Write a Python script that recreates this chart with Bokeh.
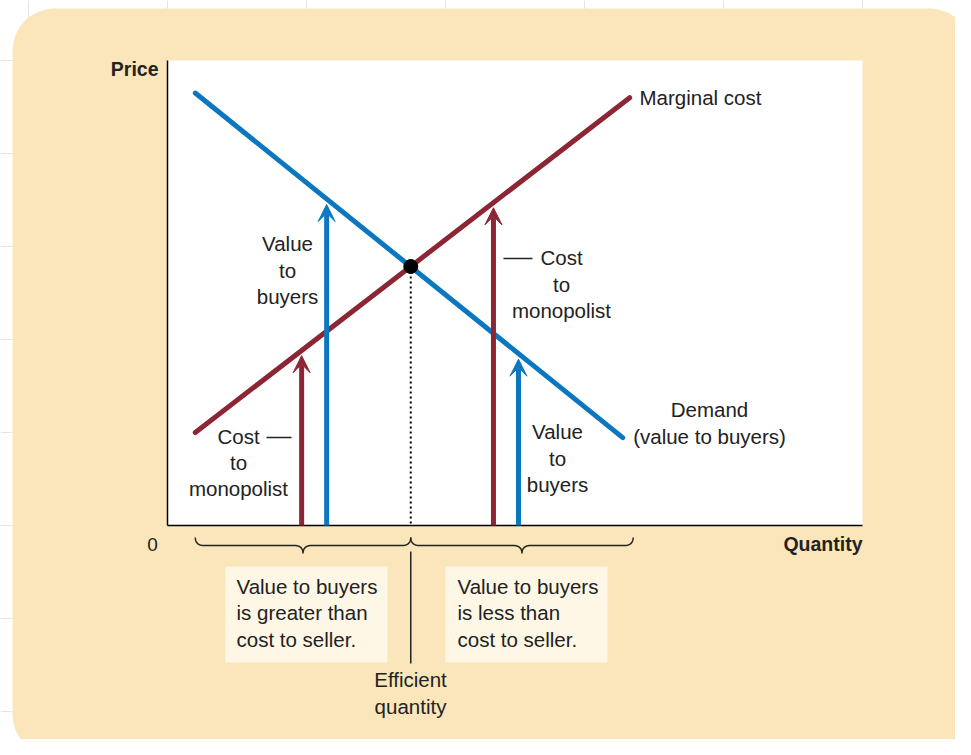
import numpy as np
from bokeh.plotting import figure
from bokeh.models import Range1d, BoxAnnotation, Arrow, VeeHead
from bokeh.core.properties import value
from bokeh.embed import file_html
from bokeh.resources import INLINE

# ---------------- data (quantity, price units) ----------------
demand_q = [0.4, 6.55]
demand_p = [9.3, 1.89]
mc_q = [0.4, 6.65]
mc_p = [2.0, 9.2]
efficient_q = 3.5
efficient_p = 5.57
q_axis_max = 10.0
p_axis_max = 10.0
brace_right_q = 6.7
# quantities used for the arrow examples: (cost arrow, value arrow)
below_eff_q = [1.93, 2.29]
above_eff_q = [4.69, 5.05]

box_left_lines = ["Value to buyers", "is greater than", "cost to seller."]
box_right_lines = ["Value to buyers", "is less than", "cost to seller."]

# ---------------- styling ----------------
W, H = 955, 739
BLUE = "#0A77C0"
RED = "#8C2634"
CARD = "#FAE6BA"
BOX = "#FEF7E5"
INK = "#222222"
FONT = value("Liberation Sans")

# pixel layout of the axes (origin and unit sizes)
X0, SX = 167.0, 69.5
Y0, SY = 525.0, 46.5
OFF = 0.0
TEXT_DY = -8.0


def qx(px):
    return (px - X0) / SX


def py(pp):
    return (Y0 - pp) / SY


p = figure(width=W, height=H, output_backend="svg", toolbar_location=None,
           x_range=Range1d(qx(OFF), qx(OFF + W)),
           y_range=Range1d(py(OFF + H), py(OFF)),
           x_axis_location=None, y_axis_location=None, min_border=0)
p.outline_line_color = None
p.background_fill_color = "white"
p.border_fill_color = "white"

# card background
card = BoxAnnotation(left=qx(12), right=qx(971), top=py(8), bottom=py(756),
                     fill_color=CARD, fill_alpha=1.0, line_color=None,
                     border_radius=42, level="underlay")
p.add_layout(card)

# white plot area
p.quad(left=[0], right=[q_axis_max], bottom=[0], top=[p_axis_max],
       fill_color="white", line_color=None)

# label boxes
p.quad(left=[qx(225), qx(445)], right=[qx(387), qx(607)],
       bottom=[py(662), py(662)], top=[py(566), py(566)],
       fill_color=BOX, line_color=None)

# axes
p.line([0, 0], [0, p_axis_max], line_color="black", line_width=1.5)
p.line([0, q_axis_max], [0, 0], line_color="black", line_width=1.5)

# curves
p.line(demand_q, demand_p, line_color=BLUE, line_width=5, line_cap="round")
p.line(mc_q, mc_p, line_color=RED, line_width=5, line_cap="round")

# dotted efficient line and point
p.line([efficient_q, efficient_q], [efficient_p, 0], line_color="black",
       line_width=2, line_dash="2 3")
p.scatter([efficient_q], [efficient_p], size=14, color="black")


def demand_at(q):
    return float(np.interp(q, demand_q, demand_p))


def mc_at(q):
    return float(np.interp(q, mc_q, mc_p))


# arrows
for (qc, qv) in (below_eff_q, above_eff_q):
    p.add_layout(Arrow(x_start=qc, y_start=0, x_end=qc, y_end=mc_at(qc) - 0.11,
                       line_color=RED, line_width=5,
                       end=VeeHead(size=17, fill_color=RED, line_color=RED, line_width=1)))
    p.add_layout(Arrow(x_start=qv, y_start=0, x_end=qv, y_end=demand_at(qv) - 0.12,
                       line_color=BLUE, line_width=5,
                       end=VeeHead(size=17, fill_color=BLUE, line_color=BLUE, line_width=1)))


# braces
def brace(x0, x1, ytop=537.0, ymid=545.0, ycusp=553.0, r=9.0):
    t = np.linspace(0, 1, 12)

    def qb(a, c, b):
        return [(1 - t) ** 2 * a[i] + 2 * (1 - t) * t * c[i] + t ** 2 * b[i] for i in (0, 1)]

    xc = 0.5 * (x0 + x1)
    segs = [
        qb((x0, ytop), (x0, ymid), (x0 + r, ymid)),
        qb((xc - r, ymid), (xc, ymid), (xc, ycusp)),
        qb((xc, ycusp), (xc, ymid), (xc + r, ymid)),
        qb((x1 - r, ymid), (x1, ymid), (x1, ytop)),
    ]
    xs = np.concatenate([s[0] for s in segs])
    ys = np.concatenate([s[1] for s in segs])
    return xs, ys


x_left = X0 + SX * demand_q[0]
x_eff = X0 + SX * efficient_q
x_right = X0 + SX * brace_right_q
for a, b in ((x_left, x_eff), (x_eff, x_right)):
    bx, by = brace(a, b)
    p.line(qx(bx), py(by), line_color=INK, line_width=1.5)

# efficient quantity pointer
p.line([efficient_q, efficient_q], [py(551), py(663)], line_color=INK, line_width=1.5)

# small leader dashes
p.line([qx(266), qx(291)], [py(437), py(437)], line_color=INK, line_width=1.5)
p.line([qx(503), qx(532)], [py(258), py(258)], line_color=INK, line_width=1.5)


def txt(xs, ys, texts, align="center", size="20.5px", style="normal"):
    p.text(x=[qx(v) for v in xs], y=[py(v + TEXT_DY) for v in ys], text=texts,
           text_align=align, text_baseline="alphabetic", text_font=FONT,
           text_font_size=size, text_font_style=style, text_color=INK)


# axis labels
txt([158], [76.5], ["Price"], align="right", size="19.5px", style="bold")
txt([862], [551], ["Quantity"], align="right", size="19.5px", style="bold")
txt([152], [552], ["0"], size="19px")

# curve labels
txt([639], [105], ["Marginal cost"], align="left")
txt([709, 709], [417, 444], ["Demand", "(value to buyers)"])

# arrow labels
txt([287, 287, 287], [251, 278, 304], ["Value", "to", "buyers"])
txt([238, 238, 238], [444, 470, 496], ["Cost", "to", "monopolist"])
txt([561, 561, 561], [265, 292, 318], ["Cost", "to", "monopolist"])
txt([557, 557, 557], [439, 466, 492], ["Value", "to", "buyers"])

# boxes text
txt([236] * 3, [594, 620, 647], box_left_lines, align="left")
txt([457] * 3, [594, 620, 647], box_right_lines, align="left")

# efficient quantity label
txt([410, 410], [687, 714], ["Efficient", "quantity"])

open("out.html", "w").write(file_html(p, INLINE))
